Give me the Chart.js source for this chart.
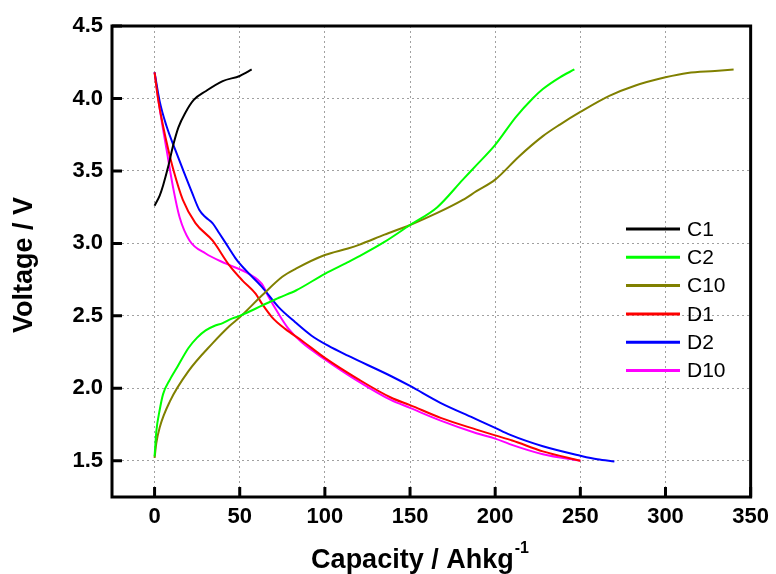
<!DOCTYPE html>
<html>
<head>
<meta charset="utf-8">
<script src="https://cdn.jsdelivr.net/npm/chart.js@4/dist/chart.umd.min.js"></script>
<style>
  body { margin: 0; background: #fff; }
  canvas { display: block; }
</style>
</head>
<body>
<canvas id="MyChart" width="776" height="574"></canvas>
<script>
// capacity (Ahkg-1) and voltage (V)
const c1Cap  = [0, 3, 5, 8, 11, 14, 18, 23, 30, 40, 50, 54, 57];
const c1Volt = [3.26, 3.33, 3.40, 3.53, 3.68, 3.80, 3.90, 3.99, 4.05, 4.12, 4.155, 4.18, 4.20];

const c2Cap  = [0, 1, 3, 5, 9, 13, 20, 25, 30, 35, 40, 44, 50, 63, 73, 83, 100, 113.5, 120, 135, 150, 166, 181, 189, 200, 212, 222, 228, 238, 246.5];
const c2Volt = [1.53, 1.70, 1.85, 1.96, 2.06, 2.14, 2.28, 2.35, 2.40, 2.43, 2.45, 2.474, 2.50, 2.57, 2.625, 2.675, 2.79, 2.87, 2.91, 3.01, 3.127, 3.25, 3.44, 3.54, 3.68, 3.87, 4.0, 4.065, 4.146, 4.20];

const c10Cap  = [0, 1, 3, 9, 20, 34, 44, 50, 63, 75, 83, 100, 113.5, 120, 135, 150, 166, 181, 189, 200, 214, 228, 238, 250, 267, 282, 300, 313, 329, 340];
const c10Volt = [1.52, 1.62, 1.73, 1.91, 2.12, 2.31, 2.43, 2.49, 2.64, 2.77, 2.826, 2.92, 2.965, 2.99, 3.06, 3.127, 3.21, 3.30, 3.36, 3.44, 3.60, 3.74, 3.82, 3.907, 4.018, 4.088, 4.146, 4.176, 4.19, 4.20];

const d1Cap  = [0, 2, 5, 8, 11, 16.6, 24, 34, 43.8, 51.5, 59.3, 63.1, 69, 76.7, 86.4, 100, 120, 139, 150, 168, 189, 200, 210, 228, 250];
const d1Volt = [4.18, 4.0, 3.81, 3.65, 3.51, 3.30, 3.14, 3.02, 2.85, 2.745, 2.653, 2.583, 2.49, 2.41, 2.33, 2.21, 2.06, 1.935, 1.884, 1.796, 1.715, 1.675, 1.64, 1.565, 1.50];

const d2Cap  = [0, 3, 7, 12, 16.6, 22, 26.3, 30, 34, 38, 43.8, 48, 53.5, 63, 72.8, 82.6, 92.2, 101.9, 113.5, 138.7, 150, 167.8, 187.2, 200, 208.5, 228, 250, 260, 270];
const d2Volt = [4.18, 3.98, 3.81, 3.65, 3.51, 3.35, 3.23, 3.18, 3.14, 3.07, 2.965, 2.89, 2.815, 2.70, 2.56, 2.456, 2.363, 2.294, 2.225, 2.085, 2.016, 1.90, 1.796, 1.727, 1.68, 1.60, 1.535, 1.51, 1.495];

const d10Cap  = [0, 3, 7, 10.8, 14.7, 20.5, 30, 42, 55.4, 63, 67, 72.8, 78.7, 86.4, 100, 119.4, 138.7, 150, 168, 189, 200, 208.5, 228, 250];
const d10Volt = [4.18, 3.93, 3.65, 3.39, 3.18, 3.02, 2.93, 2.86, 2.79, 2.72, 2.63, 2.514, 2.41, 2.317, 2.20, 2.05, 1.92, 1.865, 1.777, 1.69, 1.653, 1.615, 1.545, 1.50];

const seriesNames = ['C1', 'C2', 'C10', 'D1', 'D2', 'D10'];
const seriesColors = ['#000000', '#00ff00', '#808000', '#ff0000', '#0000ff', '#ff00ff'];

const xTickValues = [0, 50, 100, 150, 200, 250, 300, 350];
const xTickLabels = ['0', '50', '100', '150', '200', '250', '300', '350'];
const yTickValues = [1.5, 2.0, 2.5, 3.0, 3.5, 4.0, 4.5];
const yTickLabels = ['1.5', '2.0', '2.5', '3.0', '3.5', '4.0', '4.5'];

const allCaps = [c1Cap, c2Cap, c10Cap, d1Cap, d2Cap, d10Cap];
const allVolts = [c1Volt, c2Volt, c10Volt, d1Volt, d2Volt, d10Volt];

function toPoints(xs, ys) {
  return xs.map((x, i) => ({ x: x, y: ys[i] }));
}

const datasets = seriesNames.map((name, i) => ({
  label: name,
  data: toPoints(allCaps[i], allVolts[i]),
  borderColor: seriesColors[i],
  backgroundColor: seriesColors[i],
  borderWidth: 2,
  pointRadius: 0,
  showLine: true,
  cubicInterpolationMode: 'monotone',
}));

const FONT = "'Liberation Sans', Arial, sans-serif";

// frame, inner ticks, legend and axis titles
const decorations = {
  id: 'decorations',
  afterDraw(chart) {
    const ctx = chart.ctx;
    const a = chart.chartArea;
    const xs = chart.scales.x;
    const ys = chart.scales.y;
    ctx.save();

    // inner tick marks
    ctx.strokeStyle = '#000';
    ctx.lineWidth = 3;
    ctx.beginPath();
    xTickValues.forEach((v) => {
      const px = xs.getPixelForValue(v);
      ctx.moveTo(px, a.bottom);
      ctx.lineTo(px, a.bottom - 10);
    });
    yTickValues.forEach((v) => {
      const py = ys.getPixelForValue(v);
      ctx.moveTo(a.left, py);
      ctx.lineTo(a.left + 10, py);
    });
    ctx.stroke();

    // frame
    ctx.lineWidth = 3;
    ctx.strokeRect(a.left, a.top, a.right - a.left, a.bottom - a.top);

    // legend
    ctx.font = '21px ' + FONT;
    ctx.textBaseline = 'middle';
    ctx.textAlign = 'left';
    chart.data.datasets.forEach((ds, i) => {
      const y = 229 + i * 28.3;
      ctx.strokeStyle = ds.borderColor;
      ctx.lineWidth = 3;
      ctx.beginPath();
      ctx.moveTo(626, y);
      ctx.lineTo(680, y);
      ctx.stroke();
      ctx.fillStyle = '#000';
      ctx.fillText(ds.label, 687, y + 1);
    });

    // x title with superscript
    ctx.fillStyle = '#000';
    ctx.textBaseline = 'alphabetic';
    const mainTxt = 'Capacity / Ahkg';
    const supTxt = '-1';
    ctx.font = 'bold 27px ' + FONT;
    const mw = ctx.measureText(mainTxt).width;
    ctx.font = 'bold 16px ' + FONT;
    const sw = ctx.measureText(supTxt).width;
    const x0 = 420 - (mw + sw + 1) / 2;
    ctx.font = 'bold 27px ' + FONT;
    ctx.fillText(mainTxt, x0, 568);
    ctx.font = 'bold 16px ' + FONT;
    ctx.fillText(supTxt, x0 + mw + 1, 553);

    // y title
    ctx.font = 'bold 27px ' + FONT;
    ctx.textAlign = 'center';
    ctx.textBaseline = 'middle';
    ctx.translate(25, 265);
    ctx.rotate(-Math.PI / 2);
    ctx.fillText('Voltage / V', 0, 0);

    ctx.restore();
  },
};

const ctx = document.getElementById('MyChart').getContext('2d');
new Chart(ctx, {
  type: 'scatter',
  data: { datasets: datasets },
  options: {
    responsive: false,
    devicePixelRatio: 1,
    animation: false,
    layout: { padding: { top: 26, right: 22, left: 0, bottom: 0 } },
    plugins: {
      legend: { display: false },
      tooltip: { enabled: false },
    },
    scales: {
      x: {
        type: 'linear',
        min: -25,
        max: 350,
        afterBuildTicks: (scale) => {
          scale.ticks = xTickValues.map((v) => ({ value: v }));
        },
        afterFit: (scale) => { scale.height = 77; },
        ticks: {
          color: '#000',
          font: { family: FONT, size: 22, weight: 'bold' },
          padding: 7,
          maxRotation: 0,
          callback: (v, i) => xTickLabels[i],
        },
        grid: { color: '#a0a0a0', lineWidth: 1, drawTicks: false },
        border: { display: false, dash: [2, 3] },
      },
      y: {
        type: 'linear',
        min: 1.25,
        max: 4.5,
        afterBuildTicks: (scale) => {
          scale.ticks = yTickValues.map((v) => ({ value: v }));
        },
        afterFit: (scale) => { scale.width = 112; },
        ticks: {
          color: '#000',
          font: { family: FONT, size: 22, weight: 'bold' },
          padding: 9,
          callback: (v, i) => yTickLabels[i],
        },
        grid: { color: '#a0a0a0', lineWidth: 1, drawTicks: false },
        border: { display: false, dash: [2, 3] },
      },
    },
  },
  plugins: [decorations],
});
</script>
</body>
</html>
